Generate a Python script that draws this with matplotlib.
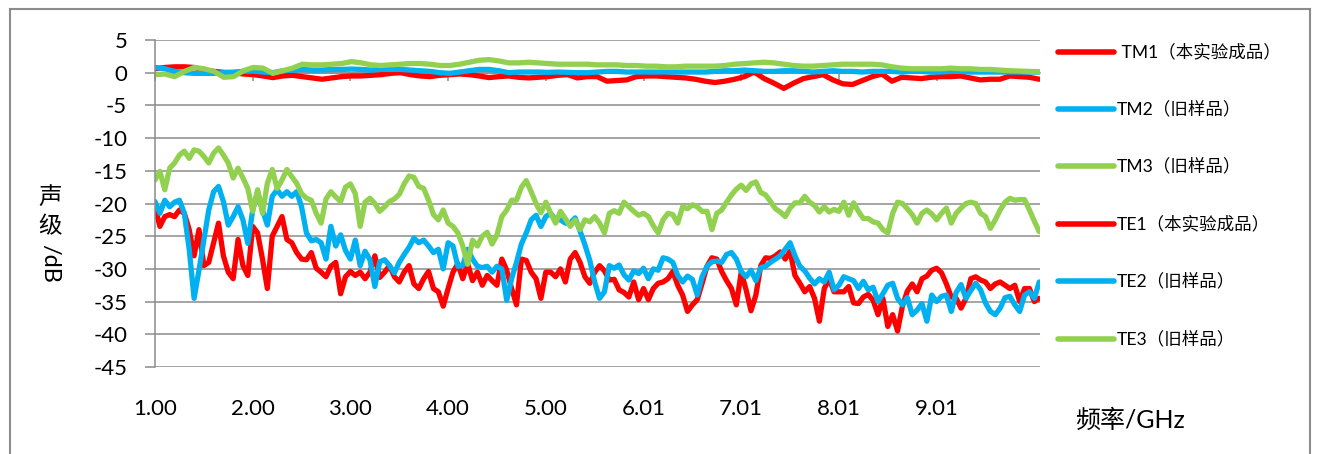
"""声级 vs 频率 (1-10 GHz): TM/TE curves, new sample vs old samples."""
import numpy as np
import matplotlib
matplotlib.use("Agg")
import matplotlib.pyplot as plt
from matplotlib.lines import Line2D
from matplotlib.patches import Rectangle

plt.rcParams["font.family"] = ["Lato", "Noto Sans CJK SC", "DejaVu Sans"]
plt.rcParams["axes.unicode_minus"] = False

W, H = 1318, 454

RED = "#FF0000"
BLUE = "#00B0F0"
GREEN = "#92D050"
GRID = "#8C8C8C"

LABELS = [" TM1（本实验成品）", "TM2（旧样品）", "TM3（旧样品）",
          "TE1（本实验成品）", "TE2（旧样品）", "TE3（旧样品）"]
XTICK_POS = [1, 2, 3, 4, 5, 6, 7, 8, 9]
XTICK_LABELS = ["1.00", "2.00", "3.00", "4.00", "5.00", "6.01", "7.01", "8.01", "9.01"]

# TM curves, read every ~0.1 GHz from 1.0 to 10.05 GHz (91 points)
tm1 = [0.6, 0.8, 0.9, 0.9, 0.8, 0.4, 0.2, 0.05, 0.0, -0.2,
       -0.3, -0.5, -0.75, -0.5, -0.4, -0.6, -0.8, -1.0, -0.8, -0.6,
       -0.5, -0.5, -0.4, -0.3, -0.1, 0.0, -0.3, -0.5, -0.6, -0.4,
       -0.3, -0.2, -0.3, -0.5, -0.75, -0.6, -0.5, -0.7, -0.8, -0.7,
       -0.6, -0.4, -0.3, -0.8, -0.6, -0.6, -1.3, -1.2, -1.1, -0.6,
       -0.5, -0.5, -0.6, -0.7, -0.8, -1.0, -1.3, -1.5, -1.3, -1.0,
       -0.6, 0.1, -0.9, -1.6, -2.4, -1.6, -0.9, -0.6, -0.3, -1.1,
       -1.7, -1.8, -1.2, -0.6, -0.2, -1.3, -0.7, -0.8, -0.9, -0.7,
       -0.6, -0.6, -0.5, -0.8, -1.1, -1.0, -1.0, -0.5, -0.6, -0.7,
       -1.0]
tm2 = [0.8, 0.6, 0.2, 0.0, -0.1, -0.1, -0.1, 0.0, 0.1, 0.2,
       0.25, 0.1, 0.0, 0.3, 0.4, 0.5, 0.4, 0.4, 0.5, 0.5,
       0.55, 0.5, 0.4, 0.5, 0.5, 0.5, 0.4, 0.3, 0.2, 0.0,
       -0.1, 0.1, 0.3, 0.5, 0.5, 0.3, 0.0, 0.1, 0.1, 0.1,
       0.05, 0.1, 0.05, 0.0, 0.0, 0.1, 0.2, 0.2, 0.1, 0.1,
       0.1, 0.1, 0.1, 0.1, 0.1, 0.1, 0.1, 0.2, 0.3, 0.3,
       0.4, 0.3, 0.2, 0.2, 0.3, 0.3, 0.2, 0.1, 0.2, 0.3,
       0.2, 0.2, 0.1, 0.2, 0.2, 0.2, 0.1, 0.2, 0.2, 0.1,
       0.1, 0.2, 0.2, 0.1, 0.1, 0.1, 0.1, 0.1, 0.1, 0.1,
       0.1]
tm3 = [-0.3, -0.2, -0.6, 0.2, 0.8, 0.6, 0.2, -0.7, -0.6, 0.3,
       0.8, 0.7, -0.1, 0.3, 0.7, 1.3, 1.2, 1.2, 1.3, 1.4,
       1.7, 1.5, 1.2, 1.1, 1.2, 1.3, 1.4, 1.4, 1.3, 1.1,
       1.1, 1.3, 1.6, 1.9, 2.0, 1.8, 1.5, 1.5, 1.6, 1.5,
       1.4, 1.3, 1.3, 1.3, 1.3, 1.2, 1.2, 1.2, 1.1, 1.1,
       1.0, 1.0, 0.9, 0.9, 1.0, 1.0, 1.0, 1.0, 1.1, 1.3,
       1.4, 1.5, 1.6, 1.5, 1.3, 1.1, 1.0, 1.0, 1.1, 1.2,
       1.3, 1.3, 1.3, 1.3, 1.2, 0.9, 0.7, 0.6, 0.6, 0.6,
       0.6, 0.7, 0.6, 0.6, 0.5, 0.5, 0.4, 0.3, 0.25, 0.2,
       0.15]

# TE curves, read every 0.05 GHz from 1.00 to 10.05 GHz (182 points)
te1 = [-20.5, -23.5, -22.0, -21.7, -22.0, -21.0, -21.5, -24.0, -28.0, -24.0,
       -29.5, -29.0, -26.0, -23.0, -28.0, -30.5, -31.5, -25.5, -29.5, -31.0,
       -23.5, -24.5, -28.5, -33.0, -25.0, -23.5, -22.0, -25.5, -26.0, -27.5,
       -28.5, -28.6, -27.5, -29.9, -30.5, -31.2, -29.6, -29.0, -33.8, -31.2,
       -30.4, -31.0, -30.5, -31.5, -30.5, -28.0, -31.3, -30.5, -29.5, -31.2,
       -32.0, -30.5, -29.5, -32.3, -33.0, -31.5, -30.4, -33.0, -33.5, -35.7,
       -33.0, -30.5, -29.2, -31.5, -29.2, -31.8, -30.5, -32.5, -31.0, -31.8,
       -32.5, -28.5, -30.2, -33.0, -35.5, -28.5, -28.7, -30.5, -31.5, -34.5,
       -30.5, -30.5, -31.2, -30.0, -32.0, -28.5, -27.5, -29.0, -31.2, -32.2,
       -30.5, -29.5, -30.3, -31.7, -31.6, -33.2, -33.6, -34.3, -32.0, -34.7,
       -33.0, -34.7, -33.0, -32.2, -32.0, -31.5, -30.4, -32.5, -34.0, -36.5,
       -35.5, -34.7, -32.2, -29.6, -28.3, -28.5, -30.4, -31.8, -33.0, -35.5,
       -30.5, -33.2, -36.4, -34.0, -29.5, -28.3, -28.4, -28.0, -27.4, -28.5,
       -27.3, -31.0, -32.2, -33.5, -32.7, -34.5, -38.0, -33.0, -31.5, -33.5,
       -33.5, -33.5, -32.7, -35.2, -35.3, -34.3, -33.9, -34.8, -37.0, -34.5,
       -38.8, -37.0, -39.5, -35.7, -33.4, -32.3, -33.5, -31.5, -31.1, -30.2,
       -29.9, -30.6, -32.3, -34.3, -34.5, -36.0, -34.5, -31.5, -31.2, -31.7,
       -32.0, -33.0, -32.3, -32.0, -32.5, -33.0, -32.5, -35.0, -33.0, -33.0,
       -35.0, -34.5]
te2 = [-19.7, -21.5, -19.5, -20.5, -19.8, -19.5, -21.5, -27.0, -34.5, -30.2,
       -25.6, -21.0, -18.2, -17.4, -19.7, -23.3, -22.0, -20.5, -22.5, -26.1,
       -21.0, -18.2, -21.0, -23.3, -18.9, -17.9, -18.9, -18.2, -18.9, -18.2,
       -20.5, -24.5, -25.7, -25.5, -26.0, -28.5, -23.5, -26.5, -24.8, -27.2,
       -28.5, -25.6, -29.5, -27.3, -28.6, -32.7, -28.9, -28.6, -29.5, -30.6,
       -29.0, -27.8, -26.7, -25.3, -26.0, -25.6, -26.5, -27.5, -27.0, -30.0,
       -26.0, -26.5, -29.6, -29.5, -27.0, -28.5, -29.6, -29.8, -29.6, -30.5,
       -29.6, -30.0, -34.8, -31.5, -29.0, -26.2, -24.5, -22.5, -21.8, -23.5,
       -22.0, -21.5, -22.5, -22.5, -23.0, -23.0, -22.2, -24.2, -26.3, -28.7,
       -32.0, -34.5, -33.5, -29.5, -29.9, -29.4, -30.9, -31.7, -30.3, -30.7,
       -29.9, -31.5, -30.0, -30.2, -28.3, -28.5, -29.0, -31.0, -32.0, -31.1,
       -31.6, -34.0, -31.2, -29.6, -28.9, -28.8, -29.0, -27.8, -27.5, -28.5,
       -30.4, -31.2, -30.2, -31.8, -29.8, -29.6, -29.0, -28.5, -28.0, -27.0,
       -26.0, -28.0, -29.6, -30.3, -31.4, -32.3, -31.5, -32.0, -30.5, -33.2,
       -32.5, -31.2, -31.5, -31.8, -33.0, -31.9, -33.2, -32.8, -35.0, -33.8,
       -32.5, -32.2, -34.5, -35.5, -34.4, -37.0, -36.3, -35.3, -38.0, -34.0,
       -35.0, -34.2, -34.0, -36.5, -33.6, -32.4, -34.5, -33.3, -32.2, -33.2,
       -35.2, -36.5, -37.0, -36.0, -34.4, -34.2, -35.5, -36.5, -34.0, -33.5,
       -34.5, -32.0]
te3 = [-16.4, -15.1, -17.9, -14.6, -13.8, -12.6, -12.0, -13.1, -11.8, -12.0,
       -12.8, -13.8, -12.3, -11.5, -12.6, -13.8, -16.1, -14.6, -16.1, -17.7,
       -21.2, -17.9, -21.5, -16.9, -14.8, -17.7, -16.4, -14.8, -15.9, -16.9,
       -18.5, -19.2, -19.5, -21.5, -23.0, -19.3, -18.2, -19.0, -19.7, -17.5,
       -17.0, -18.5, -23.5, -19.8, -19.2, -20.0, -21.2, -20.5, -19.7, -19.3,
       -18.6, -17.0, -15.8, -16.0, -17.4, -17.7, -19.5, -21.7, -22.5, -21.0,
       -23.0, -23.5, -24.5, -26.5, -29.3, -25.6, -26.5, -25.0, -24.4, -26.2,
       -24.8, -22.0, -21.0, -19.5, -19.5, -17.5, -16.5, -18.2, -20.0, -21.4,
       -19.8, -21.5, -23.0, -21.2, -22.3, -23.5, -22.5, -24.0, -22.5, -22.8,
       -22.0, -23.0, -24.5, -21.5, -21.1, -21.5, -19.8, -20.5, -21.2, -21.8,
       -21.5, -22.0, -23.4, -24.5, -22.5, -21.5, -21.7, -23.0, -20.5, -20.8,
       -20.2, -20.5, -21.2, -21.2, -24.0, -21.5, -21.0, -19.8, -18.7, -17.8,
       -17.2, -18.0, -17.0, -16.7, -18.3, -18.7, -19.7, -20.8, -21.3, -22.0,
       -20.7, -19.9, -19.9, -18.9, -19.8, -20.3, -21.3, -20.5, -21.3, -20.9,
       -21.2, -19.8, -21.8, -19.9, -21.2, -22.3, -22.3, -22.8, -23.0, -24.0,
       -24.5, -21.5, -19.8, -20.0, -20.8, -21.7, -23.0, -21.5, -21.0, -21.6,
       -22.5, -21.5, -20.7, -23.0, -21.5, -20.7, -20.0, -19.8, -20.0, -21.5,
       -22.0, -23.8, -22.5, -21.0, -19.8, -19.2, -19.5, -19.4, -19.4, -21.0,
       -22.7, -24.3]

freq_tm = np.linspace(1.0, 10.05, len(tm1))
freq_te = np.round(1.0 + 0.05 * np.arange(len(te1)), 2)


def px(x, y):
    """pixel position in the 1318x454 picture -> figure fraction"""
    return x / W, 1 - y / H


def main():
    fig = plt.figure(figsize=(W / 100, H / 100), dpi=100)
    x0, y0 = px(155, 367)
    x1, y1 = px(1040, 40)
    ax = fig.add_axes([x0, y0, x1 - x0, y1 - y0])

    style = dict(lw=3.8, solid_capstyle="round", solid_joinstyle="round")
    series = [(freq_tm, tm1, RED), (freq_tm, tm2, BLUE), (freq_tm, tm3, GREEN),
              (freq_te, te1, RED), (freq_te, te2, BLUE), (freq_te, te3, GREEN)]
    lines = []
    for (fx, vals, col), lab in zip(series, LABELS):
        ln, = ax.plot(fx, vals, color=col, label=lab, **style)
        lines.append(ln)

    ax.set_xlim(1.0, 10.058)
    ax.set_ylim(-45, 5)
    ax.set_yticks(np.arange(-45, 6, 5))
    ax.yaxis.grid(True, color=GRID, lw=1.1)
    ax.set_axisbelow(True)

    for s in ("top", "right", "bottom"):
        ax.spines[s].set_visible(False)
    ax.spines["left"].set_color(GRID)
    ax.spines["left"].set_linewidth(1.1)
    ax.tick_params(axis="y", direction="out", length=7, width=1.1, color=GRID,
                   pad=13, labelsize=16)

    # category labels sit below the plot, tick marks sit on the 0 dB line
    ax.set_xticks(XTICK_POS)
    ax.set_xticklabels(XTICK_LABELS)
    ax.tick_params(axis="x", length=0, pad=23, labelsize=16)

    zero_ax = ax.secondary_xaxis(45 / 50)
    zero_ax.set_alignment("bottom")
    zero_ax.set_xticks(XTICK_POS)
    zero_ax.tick_params(axis="x", direction="out", length=6, width=1.1,
                        color=GRID, labelbottom=False, labeltop=False)
    zero_ax.spines["bottom"].set_color(GRID)
    zero_ax.spines["bottom"].set_linewidth(1.1)

    # y label: CJK upright, "/dB" turned
    fig.text(*px(50, 197), "声", ha="center", va="center", fontsize=17)
    fig.text(*px(50, 227), "级", ha="center", va="center", fontsize=17)
    fig.text(*px(50, 263), "/dB", ha="center", va="center", fontsize=17,
             rotation=-90)
    fig.text(*px(1075, 420), "频率/GHz", ha="left", va="center", fontsize=18)

    # legend column on the right
    leg_y = [52, 109, 166, 224, 281, 339]
    for ln, y in zip(lines, leg_y):
        hx0, hy = px(1058, y)
        hx1, _ = px(1114, y)
        fig.add_artist(Line2D([hx0, hx1], [hy, hy], color=ln.get_color(), lw=4,
                              solid_capstyle="round", transform=fig.transFigure))
        fig.text(*px(1117, y), ln.get_label(), ha="left", va="center", fontsize=12.6)

    # chart frame
    bx, by = px(10, 9)
    fig.add_artist(Rectangle((bx, -0.1), 1300 / W, by + 0.1, transform=fig.transFigure,
                             fill=False, edgecolor=GRID, lw=1.5))

    fig.savefig("out.png", dpi=100)
    plt.close(fig)


if __name__ == "__main__":
    main()
